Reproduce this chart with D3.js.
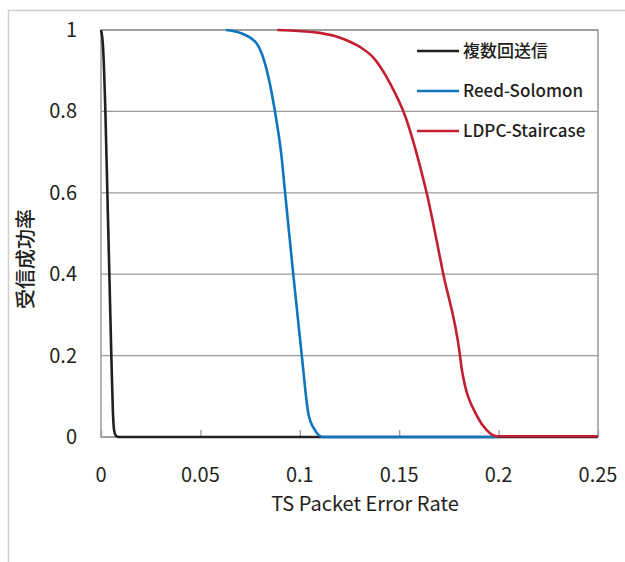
<!DOCTYPE html>
<html>
<head>
<meta charset="utf-8">
<script src="https://cdn.jsdelivr.net/npm/d3@7"></script>
<style>
  body { margin: 0; background: #fff; }
  text { font-family: "Noto Sans CJK JP", "Noto Sans", sans-serif; fill: #231f20; }
</style>
</head>
<body>
<div class="chart"></div>
<script>
var w = 625,
    h = 562,
    p = [30, 27, 125, 101],   // top, right, bottom, left
    iw = w - p[1] - p[3],
    ih = h - p[0] - p[2];

// series names and colours
var names = ["複数回送信", "Reed-Solomon", "LDPC-Staircase"],
    colors = ["#231f20", "#0f75bd", "#c41f30"];

// TS packet error rate (x) and reception success rate (y)
var multiX = [0, 0.001, 0.0022, 0.0032, 0.0042, 0.0052, 0.006, 0.0065, 0.0075, 0.009, 0.25],
    multiY = [1, 0.96, 0.8, 0.6, 0.4, 0.2, 0.06, 0.02, 0.003, 0, 0];
var rsX = [0.0629, 0.07, 0.0783, 0.0808, 0.0875, 0.091, 0.0926, 0.0967, 0.101, 0.1043, 0.1076, 0.1117, 0.2],
    rsY = [1, 0.993, 0.967, 0.943, 0.8, 0.681, 0.6, 0.4, 0.2, 0.058, 0.017, 0, 0];
var ldpcX = [0.0887, 0.11, 0.122, 0.13, 0.137, 0.1454, 0.1529, 0.1605, 0.1638, 0.1722, 0.1806, 0.1814, 0.1893, 0.194, 0.199, 0.25],
    ldpcY = [1, 0.993, 0.978, 0.959, 0.932, 0.869, 0.79, 0.665, 0.6, 0.4, 0.2, 0.169, 0.05, 0.017, 0.002, 0.002];

var xTicks = [0, 0.05, 0.1, 0.15, 0.2, 0.25],
    yTicks = [0, 0.2, 0.4, 0.6, 0.8, 1];

var x = d3.scaleLinear().domain([0, 0.25]).range([0, iw]),
    y = d3.scaleLinear().domain([0, 1]).range([ih, 0]);

var svg = d3.select(".chart").append("svg")
    .attr("width", w)
    .attr("height", h);

// outer frame (top and left edges only)
svg.append("path")
    .attr("d", "M8.5," + h + "V10.5H" + w)
    .attr("fill", "none")
    .attr("stroke", "#cfcfcf")
    .attr("stroke-width", 1.5);

var vis = svg.append("g")
    .attr("transform", "translate(" + p[3] + "," + p[0] + ")");

// horizontal grid
vis.append("g")
    .selectAll("line")
    .data(yTicks)
    .join("line")
    .attr("x1", 0)
    .attr("x2", iw)
    .attr("y1", function(d) { return y(d); })
    .attr("y2", function(d) { return y(d); })
    .attr("stroke", "#9a9a9a")
    .attr("stroke-width", 1.3);

// plot border
vis.append("rect")
    .attr("width", iw)
    .attr("height", ih)
    .attr("fill", "none")
    .attr("stroke", "#9a9a9a")
    .attr("stroke-width", 1.5);

// x axis ticks pointing inside
var xAxis = vis.append("g")
    .attr("transform", "translate(0," + ih + ")")
    .call(d3.axisTop(x).tickValues(xTicks).tickSize(7).tickFormat(""));
xAxis.select(".domain").remove();
xAxis.selectAll("line").attr("stroke", "#9a9a9a").attr("stroke-width", 1.3);

// x tick labels
vis.append("g")
    .selectAll("text")
    .data(xTicks)
    .join("text")
    .attr("x", function(d) { return x(d); })
    .attr("y", ih + 45)
    .attr("text-anchor", "middle")
    .attr("font-size", 20)
    .text(function(d) { return d; });

// y tick labels
vis.append("g")
    .selectAll("text")
    .data(yTicks)
    .join("text")
    .attr("x", -24)
    .attr("y", function(d) { return y(d) + 7; })
    .attr("text-anchor", "end")
    .attr("font-size", 20)
    .text(function(d) { return d; });

// axis titles
svg.append("text")
    .attr("x", 365)
    .attr("y", 511)
    .attr("text-anchor", "middle")
    .attr("font-size", 20)
    .text("TS Packet Error Rate");

svg.append("text")
    .attr("transform", "translate(33,259) rotate(-90)")
    .attr("text-anchor", "middle")
    .attr("font-size", 20)
    .attr("font-weight", 500)
    .text("受信成功率");

// curves
var series = [
  d3.zip(multiX, multiY),
  d3.zip(rsX, rsY),
  d3.zip(ldpcX, ldpcY)
];

var line = d3.line()
    .x(function(d) { return x(d[0]); })
    .y(function(d) { return y(d[1]); })
    .curve(d3.curveMonotoneX);

vis.selectAll(".curve")
    .data(series)
    .join("path")
    .attr("class", "curve")
    .attr("d", line)
    .attr("fill", "none")
    .attr("stroke", function(d, i) { return colors[i]; })
    .attr("stroke-width", 2.6)
    .attr("stroke-linejoin", "round");

// legend
var lg = svg.append("g")
    .selectAll("g")
    .data(names)
    .join("g")
    .attr("transform", function(d, i) { return "translate(417," + (51 + i * 40) + ")"; });

lg.append("line")
    .attr("x1", 0)
    .attr("x2", 42)
    .attr("stroke", function(d, i) { return colors[i]; })
    .attr("stroke-width", 2.6);

lg.append("text")
    .attr("x", 46)
    .attr("y", 6)
    .attr("font-size", 17)
    .attr("font-weight", 500)
    .text(function(d) { return d; });
</script>
</body>
</html>
